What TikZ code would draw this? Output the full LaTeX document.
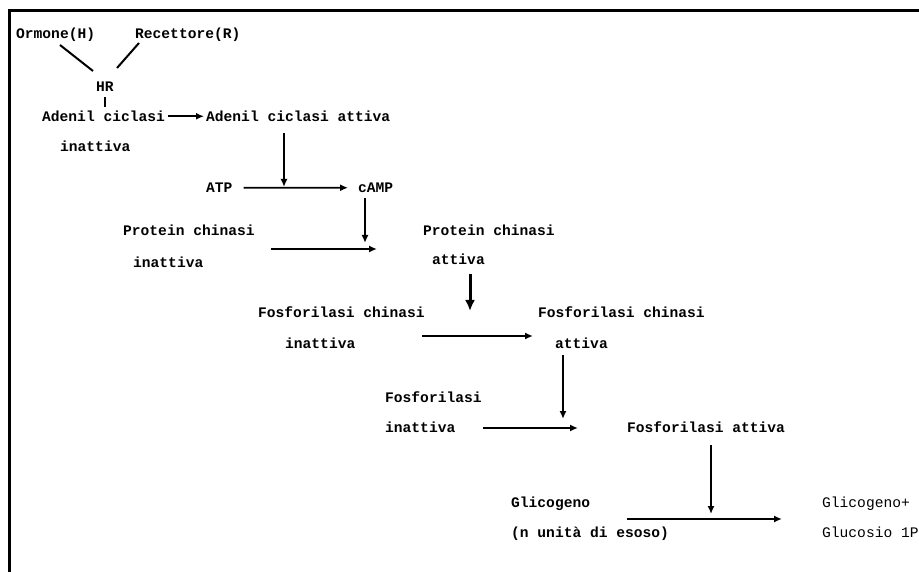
\documentclass[tikz,border=0pt]{standalone}
\usepackage{fontspec}
\newfontfamily\twfont{Liberation Mono}
\usetikzlibrary{arrows.meta}
\tikzset{
  lbl/.style={anchor=base west, inner sep=0pt, font=\twfont\bfseries\fontsize{14.6}{16}\selectfont},
  lblr/.style={anchor=base west, inner sep=0pt, font=\twfont\fontsize{14.6}{16}\selectfont},
  arr/.style={line width=1.7pt, -{Latex[length=8pt,width=7pt]}},
  bigarr/.style={line width=3pt, -{Latex[length=11pt,width=10pt]}},
  link/.style={line width=2pt},
  frame/.style={line width=3pt}
}
\begin{document}
\begin{tikzpicture}[x=1pt,y=-1pt]
\useasboundingbox (0,0) rectangle (919,572);
\clip (0,0) rectangle (919,572);
\fill[white] (0,0) rectangle (919,572);
% frame
\coordinate (ftl) at (9,11);
\coordinate (ftr) at (925,11);
\coordinate (fbl) at (9,580);
\draw[frame] (ftr) -- (ftl) -- (fbl);

% texts (y = visual centre + 4.5 for baseline)
\node[lbl] (ormone) at (16,38.5) {Ormone(H)};
\node[lbl] (recettore) at (135,38.5) {Recettore(R)};
\node[lbl] (hr) at (96,91.5) {HR};
\node[lbl] (adi) at (42,121.5) {Adenil ciclasi};
\node[lbl] (adiin) at (60,151.5) {inattiva};
\node[lbl] (ada) at (206,121.5) {Adenil ciclasi attiva};
\node[lbl] (atp) at (206,192.5) {ATP};
\node[lbl] (camp) at (358,192.5) {cAMP};
\node[lbl] (pki) at (123,235.5) {Protein chinasi};
\node[lbl] (pkiin) at (133,267.5) {inattiva};
\node[lbl] (pka) at (423,235.5) {Protein chinasi};
\node[lbl] (pkaat) at (432,264.5) {attiva};
\node[lbl] (fki) at (258,317.5) {Fosforilasi chinasi};
\node[lbl] (fkiin) at (285,348.5) {inattiva};
\node[lbl] (fka) at (538,317.5) {Fosforilasi chinasi};
\node[lbl] (fkaat) at (555,348.5) {attiva};
\node[lbl] (fi) at (385,402.5) {Fosforilasi};
\node[lbl] (fiin) at (385,432.5) {inattiva};
\node[lbl] (fa) at (627,432.5) {Fosforilasi attiva};
\node[lbl] (gli) at (511,507.5) {Glicogeno};
\node[lbl] (glin) at (511,537.5) {(n unità di esoso)};
\node[lblr] (glp) at (822,507.5) {Glicogeno+};
\node[lblr] (glu) at (822,537.5) {Glucosio 1P};

% connector end points
\coordinate (h1) at (60,45);
\coordinate (h2) at (93,71);
\coordinate (r1) at (139,43);
\coordinate (r2) at (117,68);
\coordinate (t1) at (105,97);
\coordinate (t2) at (105,107);
\coordinate (a1s) at (284,133);
\coordinate (a1e) at (284,187);
\coordinate (a2s) at (365,198);
\coordinate (a2e) at (365,243);
\coordinate (p1s) at (271,249);
\coordinate (p1e) at (377,249);
\coordinate (b1s) at (470,274);
\coordinate (b1e) at (470,311);
\coordinate (f1s) at (422,336);
\coordinate (f1e) at (533,336);
\coordinate (d1s) at (563,355);
\coordinate (d1e) at (563,419);
\coordinate (g1s) at (483,428);
\coordinate (g1e) at (578,428);
\coordinate (d2s) at (711,445);
\coordinate (d2e) at (711,514);
\coordinate (e1s) at (627,519);
\coordinate (e1e) at (782,519);

% connectors
\draw[link] (h1) -- (h2);
\draw[link] (r1) -- (r2);
\draw[line width=2.5pt] (t1) -- (t2);
\draw[arr, shorten <=3pt, shorten >=2pt] (adi) -- (ada);
\draw[arr] (a1s) -- (a1e);
\draw[arr, shorten <=11pt, shorten >=10pt] (atp) -- (camp);
\draw[arr] (a2s) -- (a2e);
\draw[arr] (p1s) -- (p1e);
\draw[bigarr] (b1s) -- (b1e);
\draw[arr] (f1s) -- (f1e);
\draw[arr] (d1s) -- (d1e);
\draw[arr] (g1s) -- (g1e);
\draw[arr] (d2s) -- (d2e);
\draw[arr] (e1s) -- (e1e);
\end{tikzpicture}
\end{document}
